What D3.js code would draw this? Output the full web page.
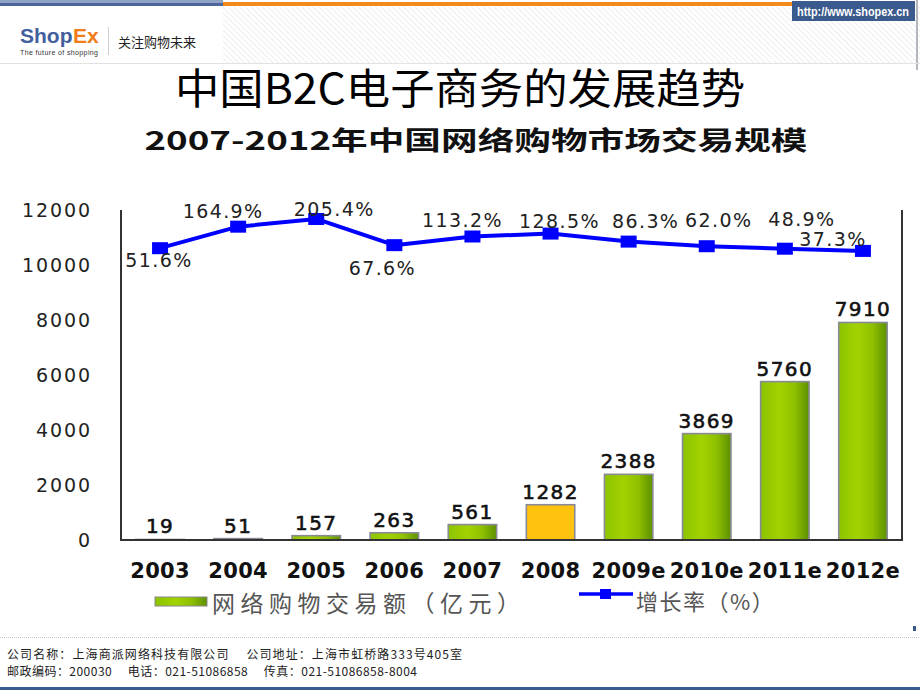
<!DOCTYPE html>
<html><head><meta charset="utf-8">
<script src="https://cdn.jsdelivr.net/npm/d3@7/dist/d3.min.js"></script>
<style>
html,body{margin:0;padding:0;background:#fff;}
svg{display:block;}
</style></head>
<body>
<svg id="c" width="920" height="690"></svg>
<script>
// ---- data ----
const years = ["2003","2004","2005","2006","2007","2008","2009e","2010e","2011e","2012e"];
const volume = [19, 51, 157, 263, 561, 1282, 2388, 3869, 5760, 7910];
const growth = [51.6, 164.9, 205.4, 67.6, 113.2, 128.5, 86.3, 62.0, 48.9, 37.3];
const yTicks = [0, 2000, 4000, 6000, 8000, 10000, 12000];
const highlightYear = "2008";
const title = "中国B2C电子商务的发展趋势";
const subtitle = "2007-2012年中国网络购物市场交易规模";
const legendBar = "网络购物交易额（亿元）";
const legendLine = "增长率（%）";
const footer1 = "公司名称：上海商派网络科技有限公司　 公司地址：上海市虹桥路333号405室";
const footer2 = "邮政编码：200030　 电话：021-51086858　 传真：021-51086858-8004";

// label placement tweaks (layout only)
const growthLabelOffset = [[-1,19],[-15,-9],[18,-3],[-12,30],[-10,-9],[9,-6],[17,-14],[12,-19],[17,-23],[-30,-5]];

const svg = d3.select("#c");
const defs = svg.append("defs");

// hatch pattern for header
const pat = defs.append("pattern").attr("id","hatch").attr("patternUnits","userSpaceOnUse")
  .attr("width",4).attr("height",4).attr("patternTransform","rotate(-45)");
pat.append("rect").attr("width",4).attr("height",4).attr("fill","#fff");
pat.append("line").attr("x1",0).attr("y1",0).attr("x2",0).attr("y2",4).attr("stroke","#e8e8e8").attr("stroke-width",1.5);

const grad = defs.append("linearGradient").attr("id","gbar").attr("x1","0").attr("x2","1").attr("y1","0").attr("y2","0");
grad.append("stop").attr("offset","0%").attr("stop-color","#8cc400");
grad.append("stop").attr("offset","40%").attr("stop-color","#a3d200");
grad.append("stop").attr("offset","70%").attr("stop-color","#8fc000");
grad.append("stop").attr("offset","100%").attr("stop-color","#5c9000");

// ---- header ----
svg.append("rect").attr("x",223).attr("y",7).attr("width",697).attr("height",56).attr("fill","url(#hatch)");
svg.append("rect").attr("x",0).attr("y",0).attr("width",223).attr("height",3).attr("fill","#8fa3c4");
svg.append("rect").attr("x",0).attr("y",3).attr("width",223).attr("height",3).attr("fill","#4d6699");
svg.append("rect").attr("x",223).attr("y",2).attr("width",570).attr("height",4).attr("fill","#f28a1e");
svg.append("rect").attr("x",792).attr("y",1).attr("width",123).attr("height",20).attr("fill","#3b5a8d");
svg.append("text").attr("x",797).attr("y",16)
  .attr("font-family","Liberation Sans, Arial, sans-serif").attr("font-weight","bold").attr("font-size",12)
  .attr("fill","#fff").attr("textLength",112).attr("lengthAdjust","spacingAndGlyphs").text("http://www.shopex.cn");
svg.append("line").attr("x1",917).attr("x2",917).attr("y1",0).attr("y2",70).attr("stroke","#9aa0aa").attr("stroke-width",1.5);
svg.append("line").attr("x1",0).attr("x2",920).attr("y1",63.5).attr("y2",63.5).attr("stroke","#e2e2e2");

const logoFont = "Liberation Sans, Arial, sans-serif";
svg.append("text").attr("x",20).attr("y",43).attr("font-family",logoFont).attr("font-weight","bold")
  .attr("font-size",21).attr("fill","#43609e").text("Shop");
svg.append("text").attr("x",73).attr("y",43).attr("font-family",logoFont).attr("font-weight","bold")
  .attr("font-size",21).attr("fill","#f07d1a").text("Ex");
svg.append("text").attr("x",20).attr("y",55).attr("font-family",logoFont)
  .attr("font-size",7).attr("fill","#333").attr("textLength",78).text("The future of shopping");
svg.append("line").attr("x1",108.5).attr("x2",108.5).attr("y1",27).attr("y2",55).attr("stroke","#cfcfcf");
svg.append("text").attr("x",118).attr("y",47).attr("font-family","Noto Sans CJK SC, sans-serif")
  .attr("font-size",13).attr("fill","#222").text("关注购物未来");

// ---- titles ----
svg.append("text").attr("x",460).attr("y",104).attr("text-anchor","middle")
  .attr("font-family","Noto Sans CJK SC, sans-serif").attr("font-size",42).attr("fill","#000")
  .attr("textLength",570).attr("lengthAdjust","spacingAndGlyphs").text(title);
svg.append("text").attr("x",476).attr("y",150).attr("text-anchor","middle")
  .attr("font-family","Noto Sans CJK SC, sans-serif").attr("font-weight","bold").attr("font-size",26).attr("fill","#111")
  .attr("textLength",663).attr("lengthAdjust","spacingAndGlyphs").text(subtitle);

// ---- chart ----
const x = d3.scaleBand().domain(years).range([121, 902]).paddingInner(0.38).paddingOuter(0.19);
const y = d3.scaleLinear().domain([0, 12000]).range([540, 210]);
const y2 = d3.scaleLinear().domain([0, 250]).range([258, 210.5]);

const numFont = "DejaVu Sans, Verdana, sans-serif";

// y axis labels
const yAxis = d3.axisLeft(y).tickValues(yTicks).tickSize(0).tickPadding(0).tickFormat(d3.format("d"));
const gy = svg.append("g").attr("transform","translate(92,0)").call(yAxis);
gy.select(".domain").remove();
gy.selectAll("text").attr("font-family",numFont).attr("font-size",19).attr("letter-spacing",1.9)
  .attr("fill","#222").attr("dy","0.36em");

// x axis labels
const xAxis = d3.axisBottom(x).tickSize(0).tickPadding(0);
const gx = svg.append("g").attr("transform","translate(0,563)").call(xAxis);
gx.select(".domain").remove();
gx.selectAll("text").attr("font-family",numFont).attr("font-weight","bold").attr("font-size",21)
  .attr("letter-spacing",0.3).attr("fill","#111").attr("dy","0.72em");

// bars
svg.append("g").selectAll("rect").data(years).join("rect")
  .attr("x", d => x(d)).attr("width", x.bandwidth())
  .attr("y", (d,i) => y(volume[i])).attr("height", (d,i) => y(0) - y(volume[i]))
  .attr("fill", d => d === highlightYear ? "#ffc20e" : "url(#gbar)")
  .attr("stroke","#8a8a96").attr("stroke-width",1.6);

// bar value labels
svg.append("g").selectAll("text").data(years).join("text")
  .attr("x", d => x(d) + x.bandwidth()/2).attr("y", (d,i) => y(volume[i]) - 6)
  .attr("text-anchor","middle").attr("font-family",numFont).attr("font-size",20)
  .attr("letter-spacing",1.4).attr("fill","#111").attr("stroke","#111").attr("stroke-width",0.6)
  .text((d,i) => volume[i]);

// axes frame
const frame = svg.append("g").attr("stroke","#333").attr("stroke-width",2).attr("fill","none");
frame.append("line").attr("x1",121).attr("x2",121).attr("y1",210).attr("y2",541);
frame.append("line").attr("x1",120).attr("x2",903).attr("y1",540).attr("y2",540);
frame.append("line").attr("x1",902).attr("x2",902).attr("y1",210).attr("y2",541);

// growth line
const cx = d => x(d) + x.bandwidth()/2;
const line = d3.line().x((d,i) => cx(years[i])).y(d => y2(d));
svg.append("path").datum(growth).attr("d", line).attr("fill","none")
  .attr("stroke","#0000ff").attr("stroke-width",4).attr("stroke-linejoin","round");
svg.append("g").selectAll("rect").data(growth).join("rect")
  .attr("x",(d,i) => cx(years[i]) - 8).attr("y", d => y2(d) - 6)
  .attr("width",16).attr("height",12).attr("fill","#0000ff");

// growth labels
svg.append("g").selectAll("text").data(growth).join("text")
  .attr("x",(d,i) => cx(years[i]) + growthLabelOffset[i][0])
  .attr("y",(d,i) => y2(d) + growthLabelOffset[i][1])
  .attr("text-anchor","middle").attr("font-family",numFont).attr("font-size",19)
  .attr("letter-spacing",1.4).attr("fill","#222")
  .text(d => d.toFixed(1) + "%");

// legend
svg.append("rect").attr("x",155).attr("y",597).attr("width",52).attr("height",9)
  .attr("fill","url(#gbar)").attr("stroke","#888").attr("stroke-width",1);
svg.append("text").attr("x",212).attr("y",612).attr("font-family","Noto Sans CJK SC, sans-serif")
  .attr("font-size",23).attr("fill","#555").attr("textLength",308).attr("lengthAdjust","spacing").text(legendBar);
svg.append("line").attr("x1",579).attr("x2",633).attr("y1",594).attr("y2",594).attr("stroke","#0000ff").attr("stroke-width",3.5);
svg.append("rect").attr("x",600).attr("y",589).attr("width",11).attr("height",10).attr("fill","#0000ff");
svg.append("text").attr("x",636).attr("y",610).attr("font-family","Noto Sans CJK SC, sans-serif")
  .attr("font-size",22).attr("fill","#555").attr("letter-spacing",1.5).text(legendLine);

// footer
svg.append("line").attr("x1",0).attr("x2",920).attr("y1",637.5).attr("y2",637.5)
  .attr("stroke","#c8c8c8").attr("stroke-dasharray","1,1");
svg.append("text").attr("x",7).attr("y",659).attr("font-family","Noto Sans CJK SC, sans-serif")
  .attr("font-size",12).attr("fill","#222").attr("textLength",455).attr("lengthAdjust","spacing").text(footer1);
svg.append("text").attr("x",7).attr("y",676).attr("font-family","Noto Sans CJK SC, sans-serif")
  .attr("font-size",12).attr("fill","#222").attr("textLength",410).attr("lengthAdjust","spacing").text(footer2);
svg.append("rect").attr("x",0).attr("y",687).attr("width",920).attr("height",3).attr("fill","#3b5a8d");
svg.append("rect").attr("x",913).attr("y",626).attr("width",3).attr("height",5).attr("fill","#3b5a8d");
</script>
</body></html>
